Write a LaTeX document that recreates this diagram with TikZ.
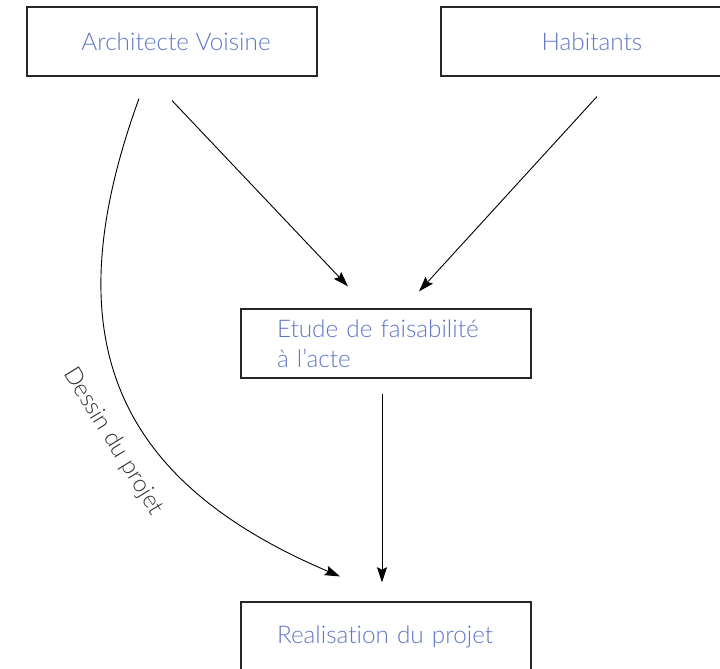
\documentclass[tikz,border=0pt]{standalone}
\usepackage{fontspec}
\setmainfont{Lato Light}[Ligatures=NoCommon]
\usetikzlibrary{arrows.meta}

\definecolor{labelblue}{RGB}{96,118,196}

\begin{document}
\begin{tikzpicture}[x=1cm,y=1cm]
\tikzset{
  stagebox/.style={rectangle,draw=black!85,line width=0.8pt,minimum width=7.25cm,minimum height=1.725cm,inner sep=0pt,font=\fontsize{17.3}{21}\selectfont,text=labelblue},
  leftbox/.style={stagebox,align=left,text width=5.45cm},
  flowedge/.style={draw=black,line width=0.65pt},
  directed/.style={flowedge,-{Stealth[length=3.8mm,width=2.5mm,inset=0.6mm]}}
}
\useasboundingbox (0,0) rectangle (18,-16.725);
\node[stagebox] (n_arch) at (4.30,-1.0375) {\hspace{0.2cm}Architecte Voisine};
\node[stagebox] (n_hab) at (14.65,-1.0375) {\hspace{0.3cm}Habitants};
\node[leftbox] (n_etude) at (9.65,-8.5875) {Etude de faisabilité\\à l'acte};
\node[leftbox] (n_real) at (9.65,-15.9125) {Realisation du projet};
\draw[directed] ([yshift=-0.6cm]n_arch.south) -- ([xshift=-0.95cm,yshift=0.55cm]n_etude.north);
\draw[directed] ([xshift=0.275cm,yshift=-0.5cm]n_hab.south) -- ([xshift=0.825cm,yshift=0.425cm]n_etude.north);
\draw[directed] ([xshift=-0.1cm,yshift=-0.375cm]n_etude.south) -- ([xshift=-0.1cm,yshift=0.475cm]n_real.north);
\draw[directed] ([xshift=-0.825cm,yshift=-0.55cm]n_arch.south) .. controls +(250:6.25) and +(157:6.25) .. ([xshift=-1.15cm,yshift=0.625cm]n_real.north)
  node[pos=0.58,sloped,below=0.38cm,font=\fontsize{17}{20}\selectfont,text=black!80] {Dessin du projet};
\end{tikzpicture}
\end{document}
